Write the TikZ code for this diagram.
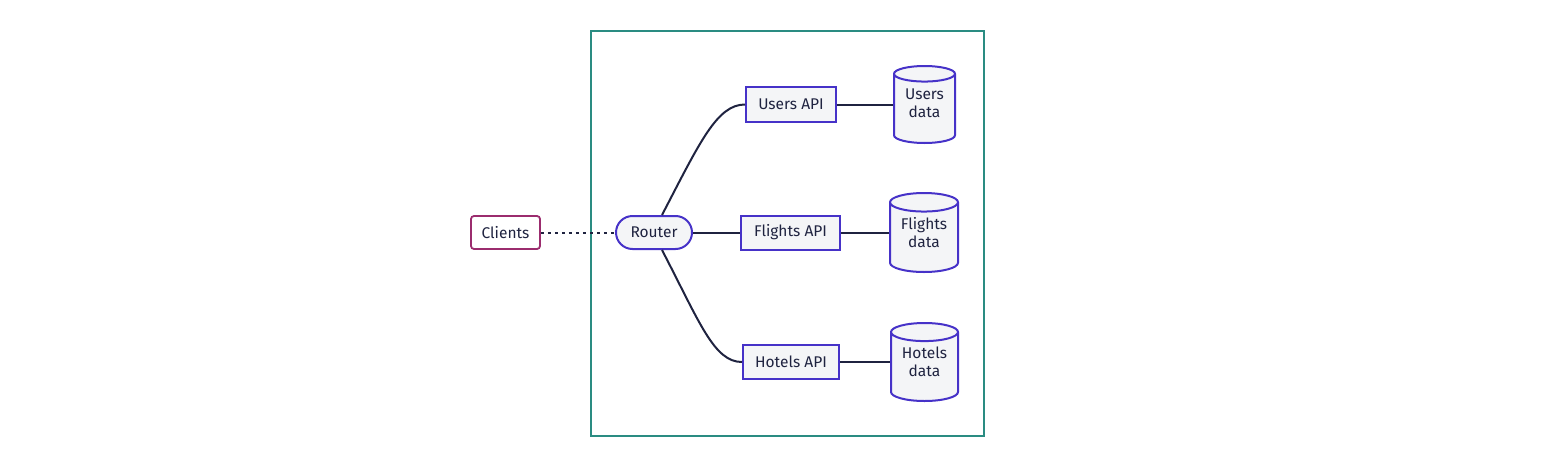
\documentclass[tikz,border=0pt]{standalone}
\usepackage{fontspec}
\setmainfont{Fira Sans}
\usetikzlibrary{arrows,shapes.geometric}

\definecolor{boxline}{HTML}{4632C8}
\definecolor{boxfill}{HTML}{F4F5F7}
\definecolor{clientline}{HTML}{9B2C6E}
\definecolor{frameline}{HTML}{2A8C82}
\definecolor{edgeline}{HTML}{1F2340}

\tikzset{
	api/.style={draw=boxline, fill=boxfill, line width=2pt, text=edgeline,
		inner sep=0pt, minimum height=34},
	router/.style={api, rounded corners=16.5pt, minimum width=76, minimum height=33},
	client/.style={draw=clientline, fill=white, line width=1.8pt, text=edgeline,
		rounded corners=3pt, inner sep=0pt, minimum width=69, minimum height=33},
	store/.style={draw=boxline, fill=boxfill, line width=2pt, text=edgeline,
		shape=cylinder, shape border rotate=90, aspect=0.4, align=center,
		anchor=shape center, inner sep=0pt, text depth=11pt,
		font=\fontsize{15.5}{18}\selectfont},
	link/.style={draw=edgeline, line width=2pt},
	frame/.style={draw=frameline, line width=2pt}
}

\begin{document}
\begin{tikzpicture}[x=1pt, y=-1pt, font=\fontsize{15.5}{18}\selectfont]
		\useasboundingbox (0,0) rectangle (1547,471);
%		\draw[help lines, step=50] (0,0) grid (1547,471);
		\draw[frame] (591,31) rectangle (984,436);

		\node[client] (clients) at (505.5,232.5) {Clients};
		\node[router] (router) at (654,232.5) {Router};
		\node[api, minimum width=90, minimum height=35] (usersapi) at (791,104.5) {Users API};
		\node[api, minimum width=99] (flightsapi) at (790.5,232.5) {Flights API};
		\node[api, minimum width=96] (hotelsapi) at (791,362) {Hotels API};
		\node[store, minimum width=61, minimum height=77] (usersdb) at (924.5,104.5) {Users\\data};
		\node[store, minimum width=68, minimum height=79] (flightsdb) at (924,232.5) {Flights\\data};
		\node[store, minimum width=67, minimum height=78] (hotelsdb) at (924.5,362) {Hotels\\data};

		\draw[link, dash pattern=on 3pt off 4pt] (clients) -- (router);
		\draw[link] ([xshift=8]router.north) .. controls +(38,-73) and +(-28,0) .. (usersapi.west);
		\draw[link] (router) -- (flightsapi);
		\draw[link] ([xshift=8]router.south) .. controls +(38,73) and +(-28,0) .. (hotelsapi.west);
		\draw[link] (usersapi.east) -- (usersapi.east -| usersdb.west);
		\draw[link] (flightsapi.east) -- (flightsapi.east -| flightsdb.west);
		\draw[link] (hotelsapi.east) -- (hotelsapi.east -| hotelsdb.west);
	\end{tikzpicture}
\end{document}
